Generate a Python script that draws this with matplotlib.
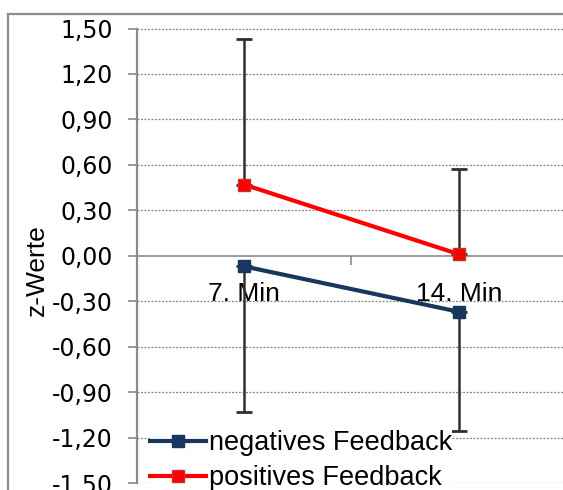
import matplotlib
matplotlib.use("Agg")
import matplotlib.pyplot as plt
from matplotlib.patches import Rectangle
from matplotlib.ticker import FixedLocator, FuncFormatter

categories = ["7. Min", "14. Min"]
neg_values = [-0.07, -0.37]
neg_err_lower = [0.96, 0.79]
pos_values = [0.47, 0.01]
pos_err_upper = [0.96, 0.56]
series_names = ["negatives Feedback", "positives Feedback"]
y_ticks = [-1.5, -1.2, -0.9, -0.6, -0.3, 0.0, 0.3, 0.6, 0.9, 1.2, 1.5]

W, H = 563, 490
fig = plt.figure(figsize=(W / 100, H / 100), dpi=100)
fig.patch.set_facecolor("white")

# outer chart frame (partially cropped)
fig.patches.append(Rectangle((8 / W, -0.1), 1.2, 1 - 14 / H + 0.1,
                             transform=fig.transFigure, fill=False,
                             edgecolor="#8c8c8c", linewidth=1.6))

ax_left, ax_right = 136.5, 566.5
ax_top, ax_bottom = 28.5, 483.0
ax = fig.add_axes([ax_left / W, 1 - ax_bottom / H,
                   (ax_right - ax_left) / W, (ax_bottom - ax_top) / H])
ax.set_facecolor("none")

x = list(range(len(categories)))
blue = "#17375E"
red = "#FF0000"

# error bars (one-sided)
ax.errorbar(x, pos_values, yerr=[[0, 0], pos_err_upper], fmt="none",
            ecolor="#303030", elinewidth=1.8, capsize=5.5, capthick=2,
            zorder=3)
ax.errorbar(x, neg_values, yerr=[neg_err_lower, [0, 0]], fmt="none",
            ecolor="#303030", elinewidth=1.8, capsize=5.5, capthick=2,
            zorder=3)

ax.plot(x, neg_values, color=blue, lw=3.0, marker="s", ms=8.3,
        mfc=blue, mec=blue, label=series_names[0], zorder=4)
ax.plot(x, pos_values, color=red, lw=3.0, marker="s", ms=8.3,
        mfc=red, mec="#C8302C", mew=1, label=series_names[1], zorder=4)

ax.set_xlim(-0.5, 1.5)
ax.set_ylim(-1.5, 1.5)

# grid lines (dotted), except zero
for yv in y_ticks:
    if abs(yv) > 1e-9:
        ax.axhline(yv, color="#8a8a8a", lw=0.9, ls=(0, (1.6, 1.2)), zorder=1)

for s in ["top", "right"]:
    ax.spines[s].set_visible(False)
ax.spines["bottom"].set_position(("data", 0))
ax.spines["bottom"].set_color("#8a8a8a")
ax.spines["bottom"].set_linewidth(1.2)
ax.spines["left"].set_color("#8a8a8a")
ax.spines["left"].set_linewidth(1.6)

ax.yaxis.set_major_locator(FixedLocator(y_ticks))
ax.yaxis.set_major_formatter(FuncFormatter(
    lambda v, p: ("%.2f" % v).replace(".", ",").replace("-0,00", "0,00")))
ax.tick_params(axis="y", direction="out", length=6.5, width=1.2,
               color="#8a8a8a", pad=10.5, labelsize=17,
               labelfontfamily="DejaVu Sans")

ax.set_xticks(x)
ax.set_xticklabels(categories, fontsize=19, family="Liberation Sans")
ax.set_xticks([-0.5, 0.5, 1.5], minor=True)
ax.tick_params(axis="x", which="major", length=0, pad=19)
ax.tick_params(axis="x", which="minor", direction="out", length=6.5,
               width=1.2, color="#8a8a8a")

ax.set_ylabel("z-Werte", fontsize=19, family="Liberation Sans",
              va="center")
ax.yaxis.set_label_coords((37 - ax_left) / (ax_right - ax_left),
                          (ax_bottom - 270) / (ax_bottom - ax_top))

leg = ax.legend(loc="upper left",
                bbox_to_anchor=((150 - ax_left) / (ax_right - ax_left),
                                (ax_bottom - 430) / (ax_bottom - ax_top)),
                frameon=True, fancybox=False, borderpad=0.0,
                handlelength=2.05, handletextpad=0.12, labelspacing=0.34,
                borderaxespad=0, prop={"family": "Liberation Sans",
                                       "size": 19.5})
leg.get_frame().set_facecolor("white")
leg.get_frame().set_edgecolor("none")
leg.get_frame().set_alpha(1)
leg.set_zorder(5)

fig.savefig("out.png", dpi=100)
